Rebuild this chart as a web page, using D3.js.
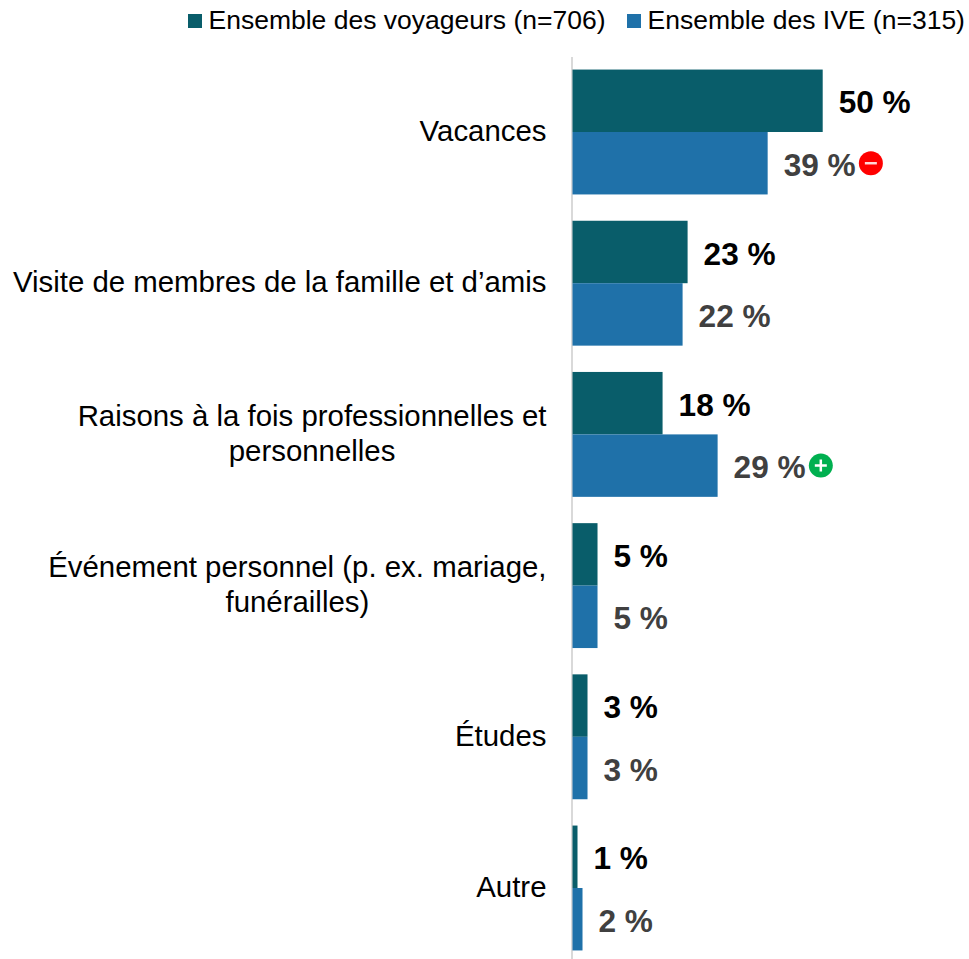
<!DOCTYPE html>
<html lang="fr">
<head>
<meta charset="utf-8">
<script src="https://cdn.jsdelivr.net/npm/d3@7"></script>
<style>
  body { margin: 0; background: #fff; }
  svg { display: block; font-family: "Liberation Sans", Arial, sans-serif; }
</style>
</head>
<body>
<svg id="chart" width="969" height="959"></svg>
<script>
const categories = [
    'Vacances',
    'Visite de membres de la famille et d’amis',
    'Raisons à la fois professionnelles et\npersonnelles',
    'Événement personnel (p. ex. mariage,\nfunérailles)',
    'Études',
    'Autre',
];
const seriesNames = ['Ensemble des voyageurs (n=706)', 'Ensemble des IVE (n=315)'];
const voyageurs = [50, 23, 18, 5, 3, 1];
const ive = [39, 22, 29, 5, 3, 2];
// signe du test de signification, seulement sur la serie IVE
const iveSignes = ['-', '', '+', '', '', ''];

const colors = ['#095d6a', '#1f71a9'];
const labelColors = ['#000000', '#404040'];

let svg = d3.select('#chart');

let x = d3.scaleLinear().domain([0, 50]).range([572.5, 822.7]);
let y = d3.scaleBand().domain(categories).range([56.4, 963.6]).paddingInner(0.174).paddingOuter(0.087);
let ySeries = d3.scaleBand().domain([0, 1]).range([0, y.bandwidth()]);

// axe vertical et libelles
let axis = svg.append('g')
    .attr('transform', 'translate(571.5,0)')
    .call(d3.axisLeft(y).tickSize(0).tickFormat(''));
axis.select('.domain').attr('stroke', '#d9d9d9').attr('stroke-width', 2);
axis.selectAll('.tick text').remove();

axis.selectAll('.tick').each(function (d) {
    let lines = d.split('\n');
    let text = d3.select(this).append('text')
        .attr('fill', '#000')
        .attr('font-size', 29.4)
        .attr('text-anchor', 'middle');
    lines.forEach((line, i) => {
        text.append('tspan')
            .attr('y', (i - (lines.length - 1) / 2) * 35 - 1)
            .attr('dy', '0.35em')
            .text(line);
    });
    // bord droit du bloc aligne a x=546.5, lignes centrees entre elles
    let w = d3.max(text.selectAll('tspan').nodes(), (n) => n.getComputedTextLength());
    text.selectAll('tspan').attr('x', -25 - w / 2);
});

// barres
[voyageurs, ive].forEach((values, s) => {
    let group = svg.append('g');
    group.selectAll('rect')
        .data(values)
        .join('rect')
        .attr('x', x(0))
        .attr('y', (d, i) => y(categories[i]) + ySeries(s))
        .attr('width', (d) => x(d) - x(0))
        .attr('height', ySeries.bandwidth())
        .attr('fill', colors[s]);

    group.selectAll('text')
        .data(values)
        .join('text')
        .attr('x', (d) => x(d) + 16)
        .attr('y', (d, i) => y(categories[i]) + ySeries(s) + ySeries.bandwidth() / 2 + 1.5)
        .attr('dy', '0.35em')
        .attr('font-size', 31.6)
        .attr('font-weight', 'bold')
        .attr('fill', labelColors[s])
        .text((d) => `${d} %`);
});

// pastilles + / - apres les valeurs IVE
ive.forEach((d, i) => {
    let signe = iveSignes[i];
    if (!signe) return;
    let cx = x(d) + 103.2;
    let cy = y(categories[i]) + ySeries(1) + ySeries.bandwidth() / 2;
    let g = svg.append('g').attr('transform', `translate(${cx},${cy})`);
    g.append('circle').attr('r', 12).attr('fill', signe === '+' ? '#00b050' : '#ff0000');
    g.append('path')
        .attr('d', signe === '+' ? 'M-6,0H6M0,-6V6' : 'M-6,0H6')
        .attr('stroke', signe === '+' ? '#fff' : '#ffd9d9')
        .attr('stroke-width', 2.5)
        .attr('fill', 'none');
});

// legende
let legendX = [188, 627];
seriesNames.forEach((name, s) => {
    svg.append('rect')
        .attr('x', legendX[s])
        .attr('y', 14)
        .attr('width', 14)
        .attr('height', 14)
        .attr('fill', colors[s]);
    svg.append('text')
        .attr('x', legendX[s] + 20.5)
        .attr('y', 29)
        .attr('font-size', 26.5)
        .attr('fill', '#000')
        .text(name);
});
</script>
</body>
</html>
